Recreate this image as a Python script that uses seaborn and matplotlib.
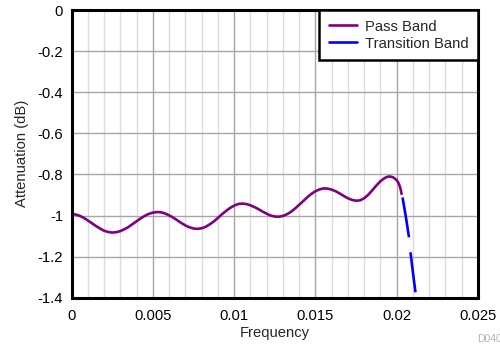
import matplotlib
matplotlib.use("Agg")
import matplotlib.pyplot as plt
import seaborn as sns
import pandas as pd
from matplotlib.ticker import MultipleLocator, FuncFormatter

# Pass band data (frequency, attenuation dB)
pass_freq = [0.00000, 0.00025, 0.00050, 0.00075, 0.00100, 0.00125, 0.00150, 0.00175,
             0.00200, 0.00225, 0.00250, 0.00275, 0.00300, 0.00325, 0.00350, 0.00375,
             0.00400, 0.00425, 0.00450, 0.00475, 0.00500, 0.00525, 0.00550, 0.00575,
             0.00600, 0.00625, 0.00650, 0.00675, 0.00700, 0.00725, 0.00750, 0.00775,
             0.00800, 0.00825, 0.00850, 0.00875, 0.00900, 0.00925, 0.00950, 0.00975,
             0.01000, 0.01025, 0.01050, 0.01075, 0.01100, 0.01125, 0.01150, 0.01175,
             0.01200, 0.01225, 0.01250, 0.01275, 0.01300, 0.01325, 0.01350, 0.01375,
             0.01400, 0.01425, 0.01450, 0.01475, 0.01500, 0.01525, 0.01550, 0.01575,
             0.01600, 0.01625, 0.01650, 0.01675, 0.01700, 0.01725, 0.01750, 0.01775,
             0.01800, 0.01825, 0.01850, 0.01875, 0.01900, 0.01925, 0.01945, 0.01960,
             0.01980, 0.02000, 0.02010, 0.02015, 0.02020, 0.02025, 0.02030]
pass_att = [-0.993, -0.995, -1.001, -1.011, -1.024, -1.037, -1.051, -1.063,
            -1.074, -1.080, -1.083, -1.081, -1.076, -1.067, -1.056, -1.042,
            -1.028, -1.014, -1.002, -0.992, -0.986, -0.983, -0.984, -0.990,
            -0.999, -1.010, -1.023, -1.036, -1.048, -1.057, -1.063, -1.065,
            -1.062, -1.055, -1.043, -1.029, -1.012, -0.994, -0.978, -0.963,
            -0.952, -0.944, -0.942, -0.944, -0.950, -0.959, -0.969, -0.981,
            -0.991, -1.000, -1.005, -1.006, -1.002, -0.994, -0.982, -0.966,
            -0.948, -0.930, -0.911, -0.895, -0.882, -0.873, -0.868, -0.869,
            -0.874, -0.882, -0.893, -0.905, -0.916, -0.924, -0.928, -0.926,
            -0.916, -0.899, -0.877, -0.854, -0.833, -0.818, -0.811, -0.810,
            -0.815, -0.828, -0.840, -0.850, -0.860, -0.875, -0.895]

# Transition band data
trans_freq = [0.02036, 0.02057, 0.02077, 0.02085, 0.02100, 0.02116]
trans_att = [-0.912, -1.010, -1.113, -1.180, -1.278, -1.378]

x_ticks = [0, 0.005, 0.01, 0.015, 0.02, 0.025]
y_ticks = [0, -0.2, -0.4, -0.6, -0.8, -1, -1.2, -1.4]

sns.set_theme(style="white")
plt.rcParams['font.family'] = ['Liberation Sans', 'DejaVu Sans']

fig = plt.figure(figsize=(5.0, 3.45), dpi=100)
ax = fig.add_axes([0.143, 0.137, 0.813, 0.834])

df_pass = pd.DataFrame({"Frequency": pass_freq, "Attenuation": pass_att})
df_trans = pd.DataFrame({"Frequency": trans_freq, "Attenuation": trans_att})

sns.lineplot(data=df_pass, x="Frequency", y="Attenuation", ax=ax,
             color="#800080", linewidth=1.9, label="Pass Band", sort=False)
sns.lineplot(data=df_trans, x="Frequency", y="Attenuation", ax=ax,
             color="#0000FF", linewidth=1.9, label="Transition Band", sort=False,
             linestyle=(0, (15.3, 5.7)))

ax.set_xlim(0, 0.025)
ax.set_ylim(-1.4, 0)
ax.set_xticks(x_ticks)
ax.set_yticks(y_ticks)
ax.xaxis.set_minor_locator(MultipleLocator(0.001))
fmt = FuncFormatter(lambda v, p: ("%g" % round(v, 6)) if abs(v) > 1e-12 else "0")
ax.xaxis.set_major_formatter(fmt)
ax.yaxis.set_major_formatter(fmt)

ax.grid(True, which="major", color="#a6a6a6", linewidth=1.0)
ax.grid(True, which="minor", axis="x", color="#dcdcdc", linewidth=1.0)
ax.set_axisbelow(True)

for s in ax.spines.values():
    s.set_color("black")
    s.set_linewidth(2.2)

ax.tick_params(axis="x", which="both", length=0, labelsize=10.6, pad=8,
               colors="black")
ax.tick_params(axis="y", which="both", length=0, labelsize=10.6, pad=6,
               colors="black")
ax.set_xlabel("Frequency", fontsize=10.6, labelpad=2)
ax.set_ylabel("Attenuation (dB)", fontsize=10.6, labelpad=6)

leg = ax.legend(loc="upper right", fontsize=10.6, frameon=True, fancybox=False,
                borderaxespad=0, handlelength=1.9, borderpad=0.65,
                labelspacing=0.2, handletextpad=0.55)
leg.get_frame().set_edgecolor("black")
leg.get_frame().set_linewidth(1.8)
leg.get_frame().set_alpha(1)
for h in leg.get_lines():
    h.set_linestyle("-")

fig.text(0.955, 0.009, "D040", fontsize=7.5, color="#b0b0b0", ha="left", va="baseline")

fig.savefig("out.png", dpi=100)
